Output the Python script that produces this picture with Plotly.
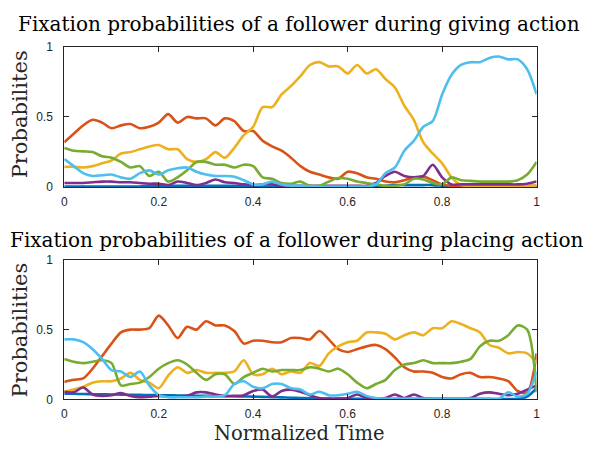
import plotly.graph_objects as go

# Normalized time grid (step 0.02)
t = [round(i * 0.02, 2) for i in range(51)]

# ---------- Giving action (top) ----------
give_blue = [0.005, 0.005, 0.005, 0.005, 0.005, 0.005, 0.005, 0.005, 0.005, 0.01,
             0.01, 0.01, 0.01, 0.01, 0.01, 0.01, 0.01, 0.01, 0.01, 0.008,
             0.005, 0.005, 0.005, 0.005, 0.005, 0.005, 0.005, 0.005, 0.005, 0.005,
             0.005, 0.005, 0.005, 0.005, 0.01, 0.015, 0.015, 0.015, 0.015, 0.015,
             0.01, 0.005, 0.005, 0.005, 0.005, 0.005, 0.005, 0.005, 0.005, 0.005, 0.005]
give_red = [0.32, 0.38, 0.44, 0.48, 0.46, 0.42, 0.44, 0.45, 0.42, 0.43,
            0.46, 0.52, 0.46, 0.50, 0.49, 0.49, 0.44, 0.49, 0.47, 0.40,
            0.40, 0.33, 0.29, 0.26, 0.21, 0.15, 0.11, 0.09, 0.07, 0.06,
            0.11, 0.10, 0.07, 0.06, 0.04, 0.035, 0.05, 0.07, 0.075, 0.05,
            0.02, 0.01, 0.01, 0.01, 0.01, 0.01, 0.01, 0.01, 0.01, 0.01, 0.01]
give_yellow = [0.145, 0.145, 0.14, 0.15, 0.17, 0.19, 0.24, 0.25, 0.27, 0.29,
               0.30, 0.27, 0.27, 0.20, 0.18, 0.20, 0.25, 0.21, 0.28, 0.37,
               0.43, 0.57, 0.57, 0.66, 0.72, 0.79, 0.87, 0.89, 0.86, 0.86,
               0.81, 0.87, 0.81, 0.84, 0.77, 0.71, 0.58, 0.48, 0.32, 0.24,
               0.17, 0.07, 0.015, 0.01, 0.01, 0.01, 0.01, 0.01, 0.01, 0.01, 0.01]
give_purple = [0.03, 0.03, 0.03, 0.035, 0.04, 0.04, 0.035, 0.035, 0.03, 0.025,
               0.025, 0.015, 0.04, 0.03, 0.015, 0.03, 0.055, 0.035, 0.03, 0.02,
               0.015, 0.02, 0.02, 0.01, 0.01, 0.01, 0.01, 0.01, 0.01, 0.01,
               0.01, 0.01, 0.01, 0.03, 0.08, 0.11, 0.08, 0.07, 0.08, 0.16,
               0.07, 0.02, 0.02, 0.02, 0.02, 0.02, 0.02, 0.02, 0.02, 0.025, 0.04]
give_green = [0.28, 0.26, 0.255, 0.25, 0.22, 0.21, 0.18, 0.14, 0.15, 0.08,
              0.11, 0.04, 0.07, 0.12, 0.18, 0.18, 0.16, 0.16, 0.14, 0.16,
              0.15, 0.07, 0.06, 0.03, 0.025, 0.04, 0.01, 0.01, 0.04, 0.065,
              0.06, 0.04, 0.03, 0.02, 0.01, 0.01, 0.02, 0.06, 0.055, 0.03,
              0.02, 0.07, 0.05, 0.045, 0.04, 0.04, 0.04, 0.04, 0.05, 0.09, 0.18]
give_cyan = [0.20, 0.15, 0.10, 0.08, 0.085, 0.09, 0.07, 0.06, 0.10, 0.12,
             0.09, 0.12, 0.135, 0.14, 0.11, 0.09, 0.08, 0.08, 0.075, 0.05,
             0.02, 0.02, 0.04, 0.02, 0.01, 0.01, 0.005, 0.005, 0.005, 0.005,
             0.005, 0.005, 0.005, 0.02, 0.10, 0.14, 0.26, 0.33, 0.43, 0.47,
             0.66, 0.80, 0.87, 0.89, 0.89, 0.92, 0.93, 0.91, 0.91, 0.84, 0.66]

# ---------- Placing action (bottom) ----------
place_blue = [0.04, 0.04, 0.038, 0.037, 0.036, 0.035, 0.034, 0.033, 0.032, 0.031,
              0.03, 0.029, 0.028, 0.027, 0.026, 0.025, 0.024, 0.023, 0.022, 0.021,
              0.02, 0.018, 0.016, 0.014, 0.012, 0.01, 0.008, 0.006, 0.005, 0.005,
              0.005, 0.004, 0.004, 0.003, 0.003, 0.003, 0.003, 0.003, 0.003, 0.003,
              0.003, 0.003, 0.003, 0.003, 0.003, 0.003, 0.003, 0.003, 0.005, 0.02, 0.08]
place_red = [0.125, 0.14, 0.15, 0.22, 0.31, 0.40, 0.48, 0.50, 0.50, 0.51,
             0.60, 0.53, 0.44, 0.52, 0.50, 0.56, 0.53, 0.53, 0.49, 0.40,
             0.42, 0.42, 0.41, 0.41, 0.44, 0.44, 0.43, 0.49, 0.43, 0.36,
             0.34, 0.36, 0.38, 0.39, 0.36, 0.30, 0.23, 0.20, 0.20, 0.19,
             0.16, 0.15, 0.18, 0.19, 0.16, 0.16, 0.15, 0.13, 0.06, 0.05, 0.33]
place_yellow = [0.055, 0.07, 0.09, 0.12, 0.13, 0.13, 0.15, 0.19, 0.14, 0.12,
                0.08, 0.17, 0.23, 0.19, 0.21, 0.19, 0.19, 0.19, 0.20, 0.28,
                0.18, 0.18, 0.22, 0.18, 0.20, 0.19, 0.26, 0.24, 0.33, 0.38,
                0.41, 0.42, 0.48, 0.48, 0.47, 0.43, 0.46, 0.48, 0.46, 0.51,
                0.51, 0.56, 0.54, 0.51, 0.48, 0.39, 0.37, 0.33, 0.34, 0.33, 0.26]
place_purple = [0.055, 0.05, 0.085, 0.035, 0.025, 0.03, 0.045, 0.025, 0.015, 0.02,
                0.025, 0.02, 0.02, 0.025, 0.05, 0.05, 0.035, 0.025, 0.025, 0.03,
                0.06, 0.07, 0.02, 0.06, 0.07, 0.055, 0.03, 0.01, 0.005, 0.005,
                0.01, 0.035, 0.01, 0.005, 0.01, 0.035, 0.01, 0.035, 0.01, 0.005,
                0.005, 0.005, 0.005, 0.01, 0.04, 0.05, 0.04, 0.03, 0.04, 0.07, 0.10]
place_green = [0.29, 0.27, 0.26, 0.27, 0.28, 0.26, 0.10, 0.11, 0.12, 0.16,
               0.22, 0.26, 0.28, 0.25, 0.19, 0.14, 0.18, 0.18, 0.11, 0.16,
               0.19, 0.22, 0.20, 0.21, 0.21, 0.21, 0.23, 0.22, 0.20, 0.22,
               0.18, 0.12, 0.08, 0.11, 0.14, 0.21, 0.25, 0.26, 0.28, 0.26,
               0.26, 0.26, 0.27, 0.29, 0.38, 0.42, 0.42, 0.46, 0.53, 0.50, 0.05]
place_cyan = [0.43, 0.43, 0.41, 0.36, 0.29, 0.21, 0.20, 0.16, 0.20, 0.10,
              0.03, 0.015, 0.015, 0.015, 0.015, 0.02, 0.02, 0.03, 0.11, 0.13,
              0.09, 0.08, 0.11, 0.11, 0.08, 0.07, 0.035, 0.055, 0.03, 0.03,
              0.04, 0.055, 0.025, 0.01, 0.005, 0.005, 0.005, 0.005, 0.005, 0.005,
              0.005, 0.005, 0.005, 0.005, 0.005, 0.005, 0.005, 0.05, 0.02, 0.04, 0.20]

colors = ["#0072BD", "#D95319", "#EDB120", "#7E2F8E", "#77AC30", "#4DBEEE"]
give = [give_blue, give_red, give_yellow, give_purple, give_green, give_cyan]
place = [place_blue, place_red, place_yellow, place_purple, place_green, place_cyan]

x_ticks = [0, 0.2, 0.4, 0.6, 0.8, 1]
x_tick_text = ["0", "0.2", "0.4", "0.6", "0.8", "1"]
y_ticks = [0, 0.5, 1]
y_tick_text = ["0", "0.5", "1"]

W, H = 592, 449
fig = go.Figure()
for series, c in zip(give, colors):
    fig.add_trace(go.Scatter(x=t, y=series, mode="lines", xaxis="x", yaxis="y",
                             line=dict(color=c, width=2.6, shape="spline", smoothing=0.8),
                             showlegend=False, hoverinfo="skip"))
for series, c in zip(place, colors):
    fig.add_trace(go.Scatter(x=t, y=series, mode="lines", xaxis="x2", yaxis="y2",
                             line=dict(color=c, width=2.6, shape="spline", smoothing=0.8),
                             showlegend=False, hoverinfo="skip"))

axcol = "#262626"
tickfont = dict(family="Liberation Sans, Arial, sans-serif", size=12, color=axcol)
common_x = dict(range=[0, 1], tickvals=x_ticks, ticktext=x_tick_text, ticks="inside",
                ticklen=5, tickcolor=axcol, showline=True, linecolor=axcol, linewidth=1,
                mirror="ticks", showgrid=False, zeroline=False, tickfont=tickfont,
                ticklabelstandoff=3, domain=[62 / W, 540 / W])
common_y = dict(range=[0, 1], tickvals=y_ticks, ticktext=y_tick_text, ticks="inside",
                ticklen=5, tickcolor=axcol, showline=True, linecolor=axcol, linewidth=1,
                mirror="ticks", showgrid=False, zeroline=False, tickfont=tickfont,
                ticklabelstandoff=8)

serif = "DejaVu Serif, Liberation Serif, serif"
fig.update_layout(
    width=W, height=H,
    margin=dict(l=0, r=0, t=0, b=0),
    paper_bgcolor="white", plot_bgcolor="white",
    xaxis=dict(**common_x, anchor="y"),
    yaxis=dict(**common_y, anchor="x", domain=[1 - 186 / H, 1 - 41 / H]),
    xaxis2=dict(**common_x, anchor="y2"),
    yaxis2=dict(**common_y, anchor="x2", domain=[1 - 405 / H, 1 - 261 / H]),
    annotations=[
        dict(text="Fixation probabilities of a follower during giving action",
             x=300 / W, y=1 - 18 / H, xref="paper", yref="paper", showarrow=False,
             xanchor="center", yanchor="middle", font=dict(family=serif, size=20, color="#000")),
        dict(text="Fixation probabilities of a follower during placing action",
             x=297 / W, y=1 - 241 / H, xref="paper", yref="paper", showarrow=False,
             xanchor="center", yanchor="middle", font=dict(family=serif, size=20, color="#000")),
        dict(text="Probabilites", x=17 / W, y=1 - 111 / H, xref="paper", yref="paper",
             showarrow=False, textangle=-90, xanchor="center", yanchor="middle",
             font=dict(family=serif, size=21, color="#262626")),
        dict(text="Probabilities", x=17 / W, y=1 - 333 / H, xref="paper", yref="paper",
             showarrow=False, textangle=-90, xanchor="center", yanchor="middle",
             font=dict(family=serif, size=21, color="#262626")),
        dict(text="Normalized Time", x=300 / W, y=1 - 440 / H, xref="paper", yref="paper",
             showarrow=False, xanchor="center", yanchor="middle",
             font=dict(family=serif, size=19.5, color="#262626")),
    ],
)

fig.write_html("out.html")
